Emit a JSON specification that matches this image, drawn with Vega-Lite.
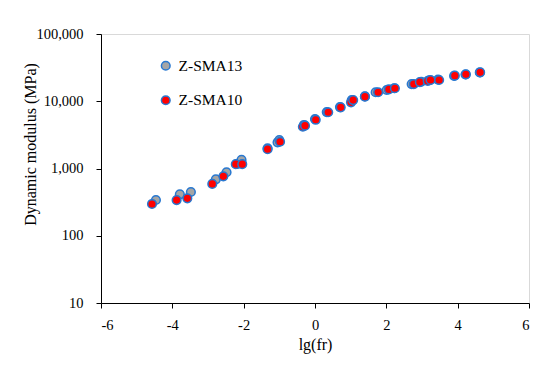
{
  "$schema": "https://vega.github.io/schema/vega-lite/v6.json",
  "width": 428,
  "height": 269,
  "autosize": "none",
  "padding": {"left": 101, "top": 34, "right": 21, "bottom": 62},
  "background": "white",
  "config": {
    "view": {"stroke": "#D9D9D9", "strokeWidth": 1},
    "font": "Liberation Serif",
    "axis": {
      "grid": false,
      "domainColor": "#000000",
      "tickColor": "#000000",
      "domainWidth": 1,
      "tickWidth": 1,
      "tickSize": 5,
      "labelFont": "Liberation Serif",
      "labelFontSize": 14.5,
      "labelColor": "#000000",
      "titleFont": "Liberation Serif",
      "titleFontSize": 16,
      "titleFontWeight": "normal",
      "titleColor": "#000000"
    }
  },
  "data": {
    "values": [
      {"lgfr": -4.46, "E": 340, "mix": "Z-SMA13"},
      {"lgfr": -3.79, "E": 413, "mix": "Z-SMA13"},
      {"lgfr": -3.48, "E": 447, "mix": "Z-SMA13"},
      {"lgfr": -2.78, "E": 690, "mix": "Z-SMA13"},
      {"lgfr": -2.48, "E": 880, "mix": "Z-SMA13"},
      {"lgfr": -2.17, "E": 1170, "mix": "Z-SMA13"},
      {"lgfr": -2.06, "E": 1340, "mix": "Z-SMA13"},
      {"lgfr": -1.33, "E": 2000, "mix": "Z-SMA13"},
      {"lgfr": -1.05, "E": 2450, "mix": "Z-SMA13"},
      {"lgfr": -1.0, "E": 2650, "mix": "Z-SMA13"},
      {"lgfr": -0.31, "E": 4440, "mix": "Z-SMA13"},
      {"lgfr": 0.0, "E": 5440, "mix": "Z-SMA13"},
      {"lgfr": 0.33, "E": 6900, "mix": "Z-SMA13"},
      {"lgfr": 0.7, "E": 8200, "mix": "Z-SMA13"},
      {"lgfr": 1.03, "E": 10440, "mix": "Z-SMA13"},
      {"lgfr": 1.4, "E": 11800, "mix": "Z-SMA13"},
      {"lgfr": 1.7, "E": 13600, "mix": "Z-SMA13"},
      {"lgfr": 2.01, "E": 14700, "mix": "Z-SMA13"},
      {"lgfr": 2.22, "E": 15600, "mix": "Z-SMA13"},
      {"lgfr": 2.71, "E": 18000, "mix": "Z-SMA13"},
      {"lgfr": 2.98, "E": 19500, "mix": "Z-SMA13"},
      {"lgfr": 3.2, "E": 20500, "mix": "Z-SMA13"},
      {"lgfr": 3.45, "E": 21000, "mix": "Z-SMA13"},
      {"lgfr": 3.9, "E": 23800, "mix": "Z-SMA13"},
      {"lgfr": 4.22, "E": 25000, "mix": "Z-SMA13"},
      {"lgfr": 4.62, "E": 26800, "mix": "Z-SMA13"},
      {"lgfr": -4.57, "E": 297, "mix": "Z-SMA10"},
      {"lgfr": -3.88, "E": 339, "mix": "Z-SMA10"},
      {"lgfr": -3.58, "E": 360, "mix": "Z-SMA10"},
      {"lgfr": -2.88, "E": 590, "mix": "Z-SMA10"},
      {"lgfr": -2.57, "E": 765, "mix": "Z-SMA10"},
      {"lgfr": -2.22, "E": 1160, "mix": "Z-SMA10"},
      {"lgfr": -2.04, "E": 1160, "mix": "Z-SMA10"},
      {"lgfr": -1.33, "E": 1940, "mix": "Z-SMA10"},
      {"lgfr": -0.98, "E": 2500, "mix": "Z-SMA10"},
      {"lgfr": -0.34, "E": 4180, "mix": "Z-SMA10"},
      {"lgfr": -0.28, "E": 4330, "mix": "Z-SMA10"},
      {"lgfr": 0.02, "E": 5300, "mix": "Z-SMA10"},
      {"lgfr": 0.37, "E": 6860, "mix": "Z-SMA10"},
      {"lgfr": 0.72, "E": 8130, "mix": "Z-SMA10"},
      {"lgfr": 1.01, "E": 9640, "mix": "Z-SMA10"},
      {"lgfr": 1.07, "E": 10400, "mix": "Z-SMA10"},
      {"lgfr": 1.4, "E": 11700, "mix": "Z-SMA10"},
      {"lgfr": 1.77, "E": 13600, "mix": "Z-SMA10"},
      {"lgfr": 2.07, "E": 15000, "mix": "Z-SMA10"},
      {"lgfr": 2.24, "E": 15600, "mix": "Z-SMA10"},
      {"lgfr": 2.77, "E": 18000, "mix": "Z-SMA10"},
      {"lgfr": 2.94, "E": 19300, "mix": "Z-SMA10"},
      {"lgfr": 3.16, "E": 20000, "mix": "Z-SMA10"},
      {"lgfr": 3.24, "E": 20700, "mix": "Z-SMA10"},
      {"lgfr": 3.48, "E": 20700, "mix": "Z-SMA10"},
      {"lgfr": 3.92, "E": 24000, "mix": "Z-SMA10"},
      {"lgfr": 4.23, "E": 25100, "mix": "Z-SMA10"},
      {"lgfr": 4.63, "E": 26900, "mix": "Z-SMA10"}
    ]
  },
  "mark": {"type": "point", "filled": true, "opacity": 1, "size": 75, "stroke": "#2878D0", "strokeWidth": 1.5, "shape": "circle"},
  "encoding": {
    "x": {
      "field": "lgfr",
      "type": "quantitative",
      "scale": {"domain": [-6, 6], "nice": false, "zero": false},
      "axis": {"values": [-6, -4, -2, 0, 2, 4, 6], "title": "lg(fr)", "labelPadding": 10, "titlePadding": 5, "labelExpr": "replace(datum.label, '−', '-')"}
    },
    "y": {
      "field": "E",
      "type": "quantitative",
      "scale": {"type": "log", "domain": [10, 100000], "nice": false},
      "axis": {"values": [10, 100, 1000, 10000, 100000], "format": ",", "title": "Dynamic modulus (MPa)", "labelPadding": 13, "titleX": -71, "titleY": 110, "titleBaseline": "middle"}
    },
    "color": {
      "field": "mix",
      "type": "nominal",
      "scale": {"domain": ["Z-SMA13", "Z-SMA10"], "range": ["#A5A5A5", "#FF0000"]},
      "legend": {
        "title": null,
        "orient": "none",
        "legendX": 57,
        "legendY": 24,
        "padding": 0,
        "rowPadding": 17.5,
        "symbolSize": 75,
        "symbolStrokeColor": "#2878D0",
        "symbolStrokeWidth": 1.5,
        "symbolType": "circle",
        "labelFont": "Liberation Serif",
        "labelFontSize": 15.5,
        "labelColor": "#000000",
        "labelOffset": 5
      }
    },
    "order": {"field": "mix", "sort": "descending"}
  }
}
